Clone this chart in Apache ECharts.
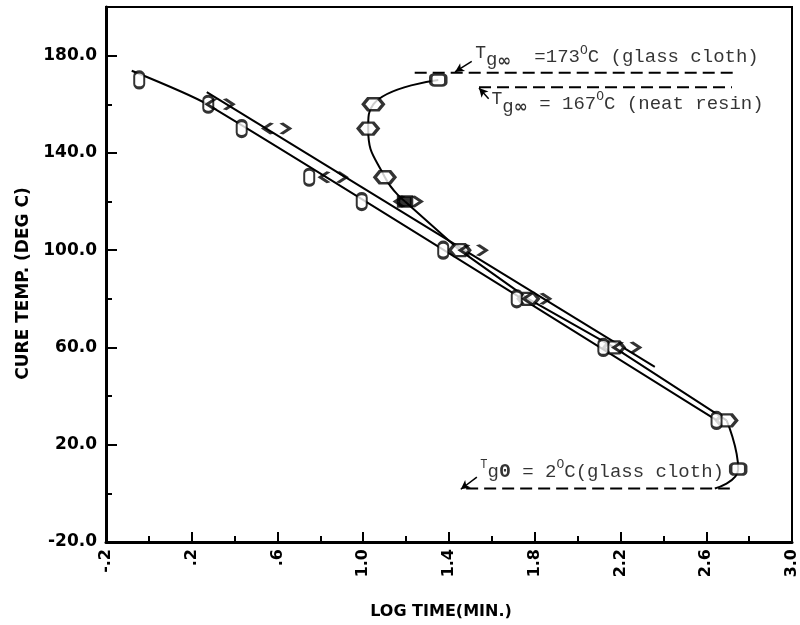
<!DOCTYPE html>
<html><head><meta charset="utf-8">
<script src="https://cdn.jsdelivr.net/npm/echarts@6/dist/echarts.min.js"></script>
<style>html,body{margin:0;padding:0;background:#fff}#c{width:800px;height:625px}</style>
</head><body><div id="c"></div>
<script>
// ---- tick labels ----
const xTickLabels = ['-.2', '.2', '.6', '1.0', '1.4', '1.8', '2.2', '2.6', '3.0'];
const yTickLabels = ['-20.0', '20.0', '60.0', '100.0', '140.0', '180.0'];

// ---- gelation, glass cloth ("0" markers) ----
const glassGelTemp = [170, 160, 150, 130, 120, 100, 80, 60, 30];
const glassGelLogTime = [-0.045, 0.277, 0.433, 0.748, 0.993, 1.373, 1.716, 2.120, 2.648];
// fitted line, glass cloth
const glassLineLogTime = [-0.08, 0.27, 2.65];
const glassLineTemp = [173.8, 160.1, 30.0];

// ---- gelation, neat resin ("<>" markers) ----
const neatGelTemp = [160, 150, 130, 120, 100, 80, 60];
const neatGelLogTime = [0.332, 0.596, 0.860, 1.210, 1.513, 1.809, 2.229];
// fitted line, neat resin
const neatLineLogTime = [0.27, 2.36];
const neatLineTemp = [165, 52];

// ---- vitrification ----
const vitriTemp = [170, 160, 150, 130, 120, 100, 80, 60, 30, 10];
const vitriLogTime = [1.35, 1.047, 1.023, 1.101, 1.195, 1.45, 1.77, 2.17, 2.695, 2.749];
const vitriEndLogTime = 2.64, vitriEndTemp = 2;

// ---- Tg reference lines ----
const tgGlass = 173, tgGlassRange = [1.24, 2.74];
const tgNeat = 167, tgNeatRange = [1.54, 2.72];
const tg0 = 2, tg0Range = [1.48, 2.71];

// ---- annotation anchors [logTime, temp] ----
const annotLogTime = [1.522, 1.598, 1.546];
const annotTemp = [179.5, 160.3, 9.0];
const arrowFrom = [[1.506, 177.6], [1.585, 162.3], [1.530, 6.7]];
const arrowTo = [[1.428, 173.3], [1.540, 166.7], [1.455, 1.7]];

const zip = (xs, ys) => xs.map((x, i) => [x, ys[i]]);

const SYM_ZERO = 'path://M5,0 C7.8,0 10,2.2 10,5 L10,15 C10,17.8 7.8,20 5,20 C2.2,20 0,17.8 0,15 L0,5 C0,2.2 2.2,0 5,0 Z';
const SYM_CHEV = 'path://M9,0 L0,6 L9,12 M19,0 L28,6 L19,12';
const SYM_HEX = 'path://M0,5 L5,0 L15,0 L20,5 L15,10 L5,10 Z';

const AXFONT = {fontFamily: 'DejaVu Sans', fontWeight: 'bold', color: '#000'};
const mono = 'Liberation Mono';
const rich = {
  n: {fontFamily: mono, fontSize: 19, color: '#000', lineHeight: 26, verticalAlign: 'middle'},
  t: {fontFamily: mono, fontSize: 18, color: '#000', lineHeight: 19, verticalAlign: 'top'},
  g: {fontFamily: mono, fontSize: 19, color: '#000', lineHeight: 20, verticalAlign: 'bottom'},
  inf: {fontFamily: 'DejaVu Sans', fontWeight: 'bold', fontSize: 17, color: '#000', lineHeight: 18, verticalAlign: 'bottom'},
  o: {fontFamily: mono, fontSize: 13, color: '#000', lineHeight: 13, verticalAlign: 'top'},
  ts: {fontFamily: mono, fontSize: 12, color: '#000', lineHeight: 14, verticalAlign: 'top'},
  z: {fontFamily: mono, fontWeight: 'bold', fontSize: 20, color: '#000', lineHeight: 26, verticalAlign: 'middle'}
};
const annotText = [
  '{t|T}{g|g}{inf|∞}{n|  =173}{o|O}{n|C (glass cloth)}',
  '{t|T}{g|g}{inf|∞}{n| = 167}{o|O}{n|C (neat resin)}',
  '{ts|T}{n|g}{z|0}{n| = 2}{o|O}{n|C(glass cloth)}'
];

const chart = echarts.init(document.getElementById('c'), null, {renderer: 'canvas'});

const vitriData = vitriLogTime.map((x, i) => {
  const item = {value: [x, vitriTemp[i]]};
  if (i === 0 || i === vitriLogTime.length - 1) { item.symbol = 'roundRect'; item.symbolSize = [15, 11]; }
  if (vitriTemp[i] === 120) { item.symbol = 'rect'; item.symbolSize = [13, 10]; item.itemStyle = {color: '#000'}; }
  return item;
});
const vitriPts = zip(vitriLogTime, vitriTemp).concat([[vitriEndLogTime, vitriEndTemp]]);
const iTop = vitriTemp.indexOf(120), iLow = vitriTemp.indexOf(30);

const thin = {color: '#000', width: 2};

chart.setOption({
  animation: false,
  backgroundColor: '#fff',
  grid: {left: 106, right: 8, top: 7, bottom: 83, show: true, borderColor: '#000', borderWidth: 2},
  xAxis: {
    type: 'value', min: -0.2, max: 3.0, interval: 0.4,
    axisLine: {show: true, onZero: false, lineStyle: {color: '#000', width: 3}},
    axisTick: {show: true, inside: true, length: 10, lineStyle: {color: '#000', width: 2}},
    minorTick: {show: true, splitNumber: 2, length: 6, lineStyle: {color: '#000', width: 2}},
    splitLine: {show: false},
    axisLabel: Object.assign({rotate: 90, margin: 7, fontSize: 16,
      formatter: v => { const k = (v + 0.2) / 0.4; const r = Math.round(k); return Math.abs(k - r) < 1e-6 ? (xTickLabels[r] || '') : ''; }
    }, AXFONT),
    name: 'LOG TIME(MIN.)', nameLocation: 'middle', nameGap: 62,
    nameTextStyle: Object.assign({fontSize: 16, padding: [0, 16, 0, 0]}, AXFONT)
  },
  yAxis: {
    type: 'value', min: -20, max: 200, interval: 40,
    axisLine: {show: true, onZero: false, lineStyle: {color: '#000', width: 3}},
    axisTick: {show: true, inside: true, length: 11, lineStyle: {color: '#000', width: 2}},
    minorTick: {show: true, splitNumber: 2, length: 6, lineStyle: {color: '#000', width: 2}},
    splitLine: {show: false},
    axisLabel: Object.assign({margin: 9, fontSize: 17,
      formatter: v => { const k = (v + 20) / 40; const r = Math.round(k); return Math.abs(k - r) < 1e-6 ? (yTickLabels[r] || '') : ''; }
    }, AXFONT),
    name: 'CURE TEMP. (DEG C)', nameLocation: 'middle', nameGap: 70,
    nameTextStyle: Object.assign({fontSize: 17, padding: [0, 18, 0, 0]}, AXFONT)
  },
  series: [
    {type: 'line', name: 'glass fit', data: zip(glassLineLogTime, glassLineTemp), showSymbol: false, smooth: 0.2, lineStyle: thin, z: 2},
    {type: 'line', name: 'neat fit', data: zip(neatLineLogTime, neatLineTemp), showSymbol: false, lineStyle: thin, z: 2},
    {type: 'line', name: 'vitrification curve (upper)', data: vitriPts.slice(0, iTop + 1),
      showSymbol: false, smooth: 0.5, lineStyle: thin, z: 2},
    {type: 'line', name: 'vitrification curve (middle)', data: vitriPts.slice(iTop, iLow + 1),
      showSymbol: false, smooth: 0, lineStyle: thin, z: 2},
    {type: 'line', name: 'vitrification curve (lower)', data: vitriPts.slice(iLow),
      showSymbol: false, smooth: 0.5, lineStyle: thin, z: 2},
    {type: 'line', name: 'Tg glass', data: zip(tgGlassRange, [tgGlass, tgGlass]), showSymbol: false,
      lineStyle: {color: '#000', width: 2, type: [12, 6]}, z: 2,
      markLine: {silent: true, symbol: ['none', 'arrow'], symbolSize: [7, 9], label: {show: false},
        lineStyle: {color: '#000', width: 1.5, type: 'solid'},
        data: arrowFrom.map((f, i) => [{coord: f}, {coord: arrowTo[i]}])}},
    {type: 'line', name: 'Tg neat', data: zip(tgNeatRange, [tgNeat, tgNeat]), showSymbol: false,
      lineStyle: {color: '#000', width: 2, type: [12, 6]}, z: 2},
    {type: 'line', name: 'Tg0', data: zip(tg0Range, [tg0, tg0]), showSymbol: false,
      lineStyle: {color: '#000', width: 2, type: [12, 6]}, z: 2},
    {type: 'scatter', name: 'vitrification', data: vitriData, symbol: SYM_HEX, symbolSize: [20, 12],
      itemStyle: {color: '#fff', borderColor: '#000', borderWidth: 3}, z: 4},
    {type: 'scatter', name: 'gel glass', data: zip(glassGelLogTime, glassGelTemp), symbol: SYM_ZERO, symbolSize: [10, 16],
      itemStyle: {color: '#fff', borderColor: '#000', borderWidth: 2.5}, z: 5},
    {type: 'scatter', name: 'gel neat', data: zip(neatGelLogTime, neatGelTemp), symbol: SYM_CHEV, symbolSize: [26, 11],
      itemStyle: {color: 'rgba(0,0,0,0)', borderColor: '#000', borderWidth: 3}, z: 6},
    {type: 'scatter', name: 'annotations', data: zip(annotLogTime, annotTemp), symbolSize: 0, silent: true, z: 7,
      label: {show: true, position: 'right', distance: 0, formatter: p => annotText[p.dataIndex], rich: rich}}
  ]
});
</script></body></html>
